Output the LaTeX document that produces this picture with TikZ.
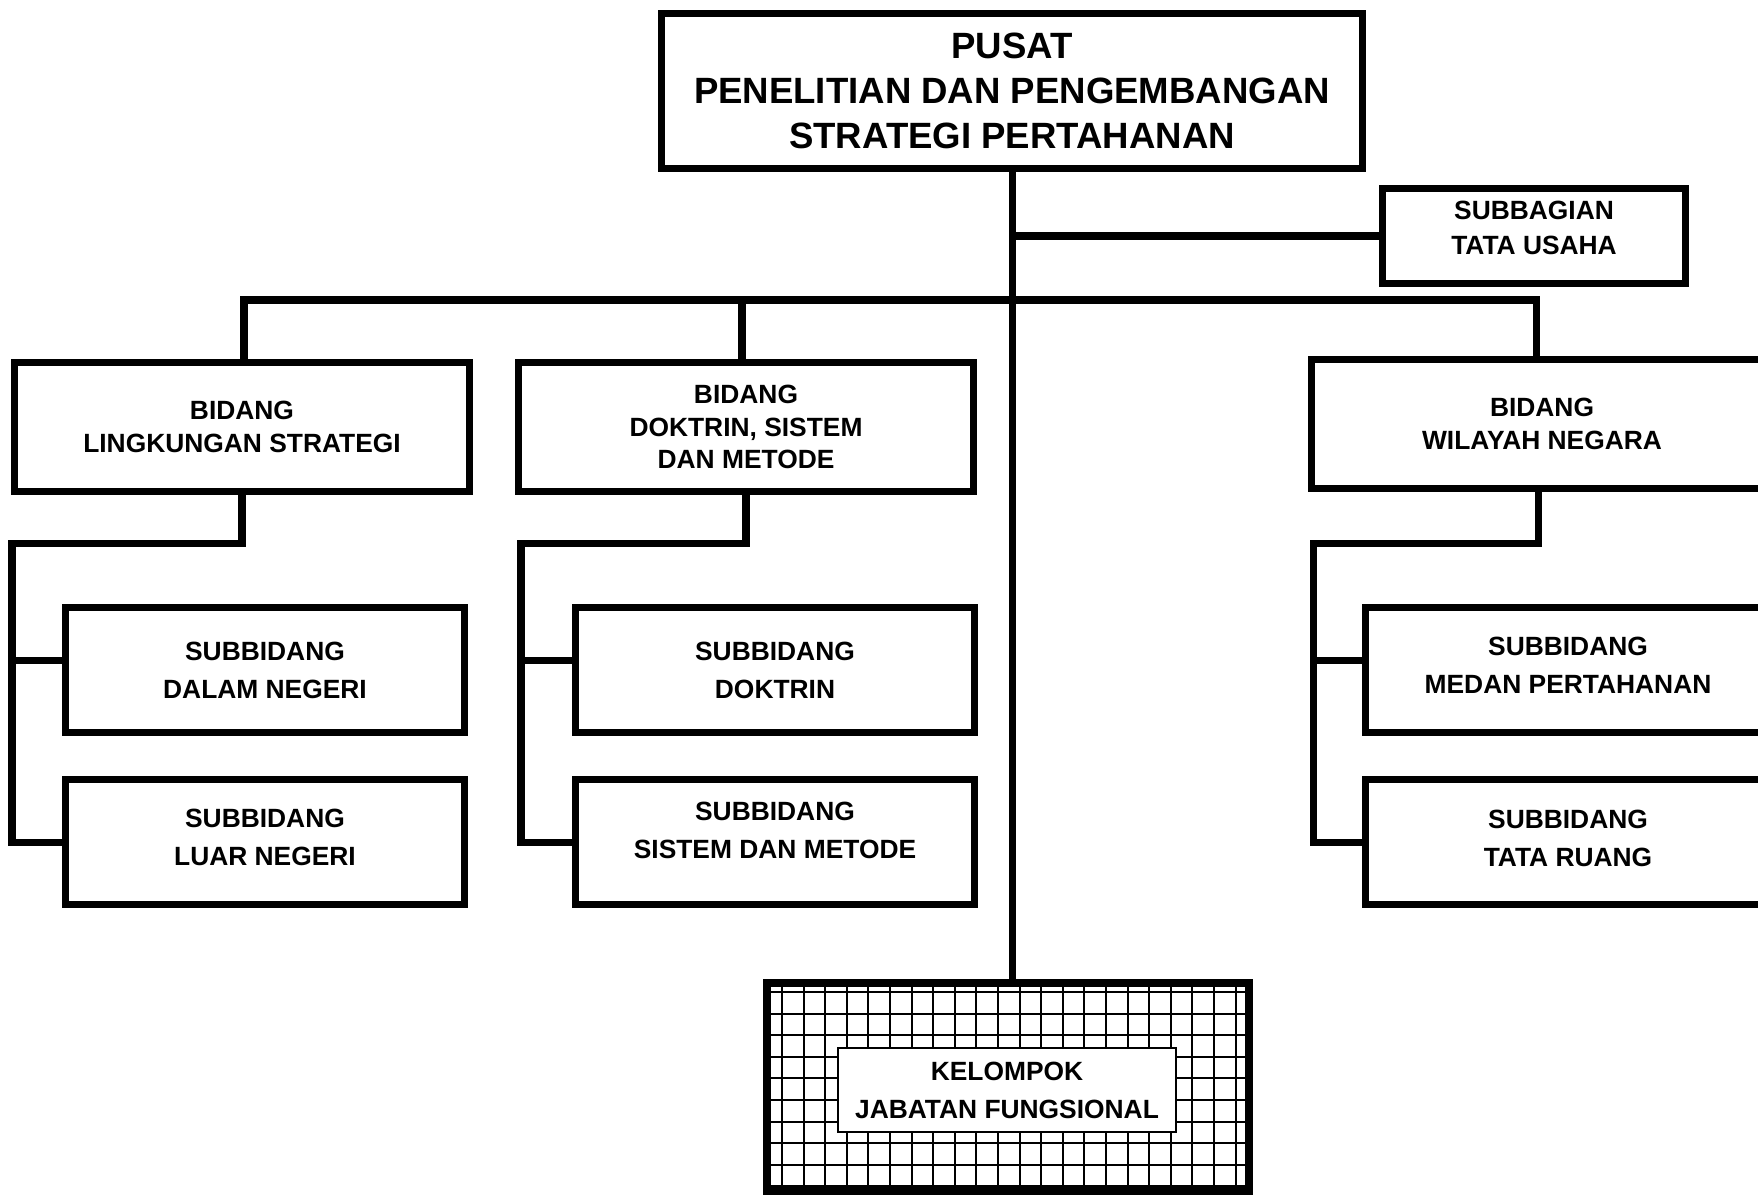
\documentclass[tikz,border=0pt]{standalone}
\usepackage{fontspec}
\setmainfont{Liberation Sans}

\tikzset{
  unit/.style={draw, line width=2pt, inner sep=0pt, align=center,
    font=\bfseries\fontsize{7.5}{10.8}\selectfont},
  bidbox/.style={unit, minimum width=4.55cm, minimum height=1.29cm,
    font=\bfseries\fontsize{7.5}{9.2}\selectfont},
  subbox/.style={unit, minimum width=3.99cm, minimum height=1.25cm},
  conn/.style={line width=2pt},
  gridline/.style={line width=0.6pt}
}

\begin{document}
\begin{tikzpicture}[x=0.01cm, y=-0.01cm]
  \useasboundingbox (0,0) rectangle (1758,1196);
  \clip (0,0) rectangle (1758,1196);
  % Pusat and tata usaha
  \node[unit, minimum width=7cm, minimum height=1.54cm,
    font=\bfseries\fontsize{10.4}{12.8}\selectfont] (pusat) at (1012,91)
    {PUSAT\\PENELITIAN DAN PENGEMBANGAN\\STRATEGI PERTAHANAN};
  \node[unit, minimum width=3.03cm, minimum height=0.95cm, text depth=0.16cm,
    font=\bfseries\fontsize{7.5}{9.9}\selectfont] (tu) at (1534,236)
    {SUBBAGIAN\\TATA USAHA};
  % Bidang
  \node[bidbox] (bidL) at (242,427) {BIDANG\\LINGKUNGAN STRATEGI};
  \node[bidbox] (bidD) at (746,427) {BIDANG\\DOKTRIN, SISTEM\\DAN METODE};
  \node[bidbox, minimum width=4.6cm] (bidW) at (1542,424) {BIDANG\\WILAYAH NEGARA};
  % Subbidang
  \node[subbox] (sLD) at (265,670) {SUBBIDANG\\DALAM NEGERI};
  \node[subbox, text depth=0.09cm] (sLL) at (265,842) {SUBBIDANG\\LUAR NEGERI};
  \node[subbox] (sDD) at (775,670) {SUBBIDANG\\DOKTRIN};
  \node[subbox, text depth=0.24cm] (sDS) at (775,842) {SUBBIDANG\\SISTEM DAN METODE};
  \node[subbox, minimum width=4.04cm, text depth=0.09cm] (sWM) at (1568,670) {SUBBIDANG\\MEDAN PERTAHANAN};
  \node[subbox, minimum width=4.04cm, text depth=0.07cm] (sWT) at (1568,842) {SUBBIDANG\\TATA RUANG};
  % Kelompok jabatan fungsional
  \node[inner sep=0pt, minimum width=4.8cm, minimum height=2.07cm] (klp) at (1008,1087) {};
  \begin{scope}
    \clip (klp.north west) rectangle (klp.south east);
    \foreach \gx in {782,803.6,...,1252} \draw[gridline] (\gx,960) -- (\gx,1200);
    \foreach \gy in {992,1013.6,...,1196} \draw[gridline] (750,\gy) -- (1270,\gy);
  \end{scope}
  \draw[line width=2.3pt] (klp.north west) rectangle (klp.south east);
  \node[unit, line width=0.6pt, fill=white, minimum width=3.38cm, minimum height=0.84cm]
    (kel) at (1007,1090) {KELOMPOK\\JABATAN FUNGSIONAL};
  % Connectors
  \coordinate (bus) at (0,300);
  \draw[conn] (pusat.south) -- (pusat.south |- klp.north);
  \draw[conn] (pusat.south |- tu.west) -- (tu.west);
  \draw[conn] ([xshift=0.02cm]bidL.north) |- ([xshift=-0.06cm]bidW.north |- bus)
    -- ([xshift=-0.06cm]bidW.north);
  \draw[conn] ([xshift=-0.04cm]bidD.north) -- ([xshift=-0.04cm]bidD.north |- bus);
  \coordinate (spL) at (12,543);
  \coordinate (spD) at (521,543);
  \coordinate (spW) at (1313,543);
  \draw[conn] (bidL.south) |- (spL) |- (sLL.west);
  \draw[conn] (spL |- 0,660) -- (sLD.west |- 0,660);
  \draw[conn] (bidD.south) |- (spD) |- (sDS.west);
  \draw[conn] (spD |- 0,660) -- (sDD.west |- 0,660);
  \draw[conn] ([xshift=-0.04cm]bidW.south) |- (spW) |- (sWT.west);
  \draw[conn] (spW |- 0,660) -- (sWM.west |- 0,660);
\end{tikzpicture}
\end{document}
